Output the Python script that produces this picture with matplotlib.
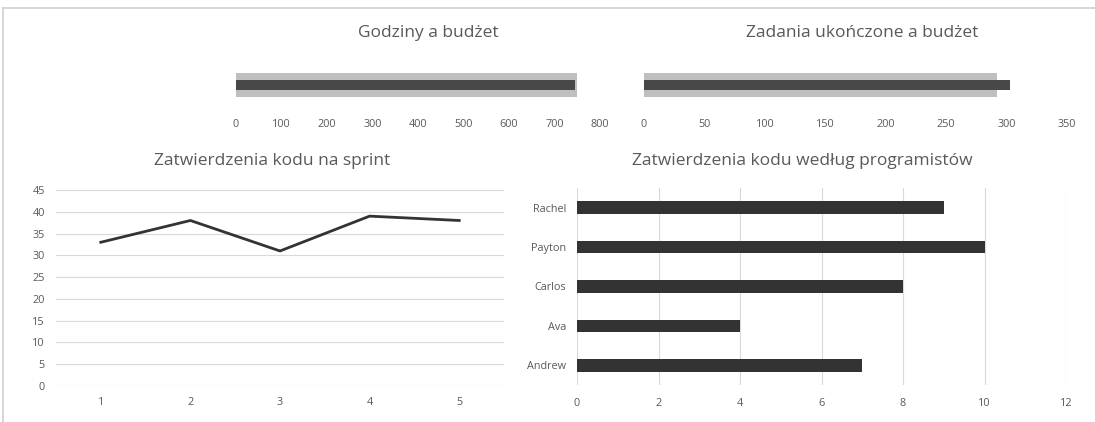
import matplotlib.pyplot as plt
from matplotlib.lines import Line2D

# bullet charts
hours_budget = 750
hours_actual = 745
tasks_budget = 292
tasks_actual = 303

# code approvals per sprint
sprints = [1, 2, 3, 4, 5]
approvals = [33, 38, 31, 39, 38]

# code approvals per developer (bottom to top)
developers = ['Andrew', 'Ava', 'Carlos', 'Payton', 'Rachel']
dev_approvals = [7, 4, 8, 10, 9]

W, H = 1095, 422
text_col = '#595959'
grid_col = '#d9d9d9'
plt.rcParams['font.family'] = ['Open Sans', 'DejaVu Sans']

fig = plt.figure(figsize=(W / 100, H / 100), dpi=100)


def px_axes(x0, y0, x1, y1):
    # pixel box (top-left origin) -> figure axes
    return fig.add_axes([x0 / W, 1 - y1 / H, (x1 - x0) / W, (y1 - y0) / H])


def clean(ax):
    for s in ax.spines.values():
        s.set_visible(False)
    ax.tick_params(length=0, labelsize=7.8, labelcolor=text_col)


# outer border lines
fig.add_artist(Line2D([3 / W, 1], [1 - 8 / H, 1 - 8 / H], color='#d0d0d0', lw=1.2))
fig.add_artist(Line2D([3 / W, 3 / W], [0, 1 - 8 / H], color='#d0d0d0', lw=1.2))

# top-left bullet
ax1 = px_axes(236, 62, 600, 108)
ax1.barh(0, hours_budget, height=0.54, color='#bfbfbf')
ax1.barh(0, hours_actual, height=0.22, color='#484848')
ax1.set_xlim(0, 800)
ax1.set_ylim(-0.5, 0.5)
ax1.set_xticks(range(0, 801, 100))
ax1.set_yticks([])
clean(ax1)
ax1.tick_params(axis='x', pad=8)
fig.text(428 / W, 1 - 33 / H, 'Godziny a budżet', ha='center', va='center',
         fontsize=12.5, color=text_col)

# top-right bullet
ax2 = px_axes(644, 62, 1067, 108)
ax2.barh(0, tasks_budget, height=0.54, color='#bfbfbf')
ax2.barh(0, tasks_actual, height=0.22, color='#484848')
ax2.set_xlim(0, 350)
ax2.set_ylim(-0.5, 0.5)
ax2.set_xticks(range(0, 351, 50))
ax2.set_yticks([])
clean(ax2)
ax2.tick_params(axis='x', pad=8)
fig.text(862 / W, 1 - 33 / H, 'Zadania ukończone a budżet', ha='center', va='center',
         fontsize=12.5, color=text_col)

# bottom-left line chart
ax3 = px_axes(56, 190, 504, 386)
ax3.plot(sprints, approvals, color='#333333', lw=2)
ax3.set_xlim(0.5, 5.5)
ax3.set_ylim(0, 45)
ax3.set_yticks(range(0, 46, 5))
ax3.set_xticks(sprints)
ax3.grid(axis='y', color=grid_col, lw=0.8)
ax3.set_axisbelow(True)
clean(ax3)
ax3.tick_params(axis='x', pad=8)
ax3.tick_params(axis='y', pad=8)
fig.text(272 / W, 1 - 161 / H, 'Zatwierdzenia kodu na sprint', ha='center', va='center',
         fontsize=12.5, color=text_col)

# bottom-right horizontal bars
ax4 = px_axes(577, 188, 1066, 385)
ax4.barh(range(len(developers)), dev_approvals, height=0.32, color='#333333')
ax4.set_xlim(0, 12)
ax4.set_ylim(-0.5, 4.5)
ax4.set_xticks(range(0, 13, 2))
ax4.set_yticks(range(len(developers)))
ax4.set_yticklabels(developers)
ax4.grid(axis='x', color=grid_col, lw=0.8)
ax4.set_axisbelow(True)
clean(ax4)
ax4.tick_params(axis='x', pad=9)
ax4.tick_params(axis='y', pad=8)
fig.text(802 / W, 1 - 161 / H, 'Zatwierdzenia kodu według programistów', ha='center',
         va='center', fontsize=12.5, color=text_col)

fig.savefig('out.png', dpi=100)
